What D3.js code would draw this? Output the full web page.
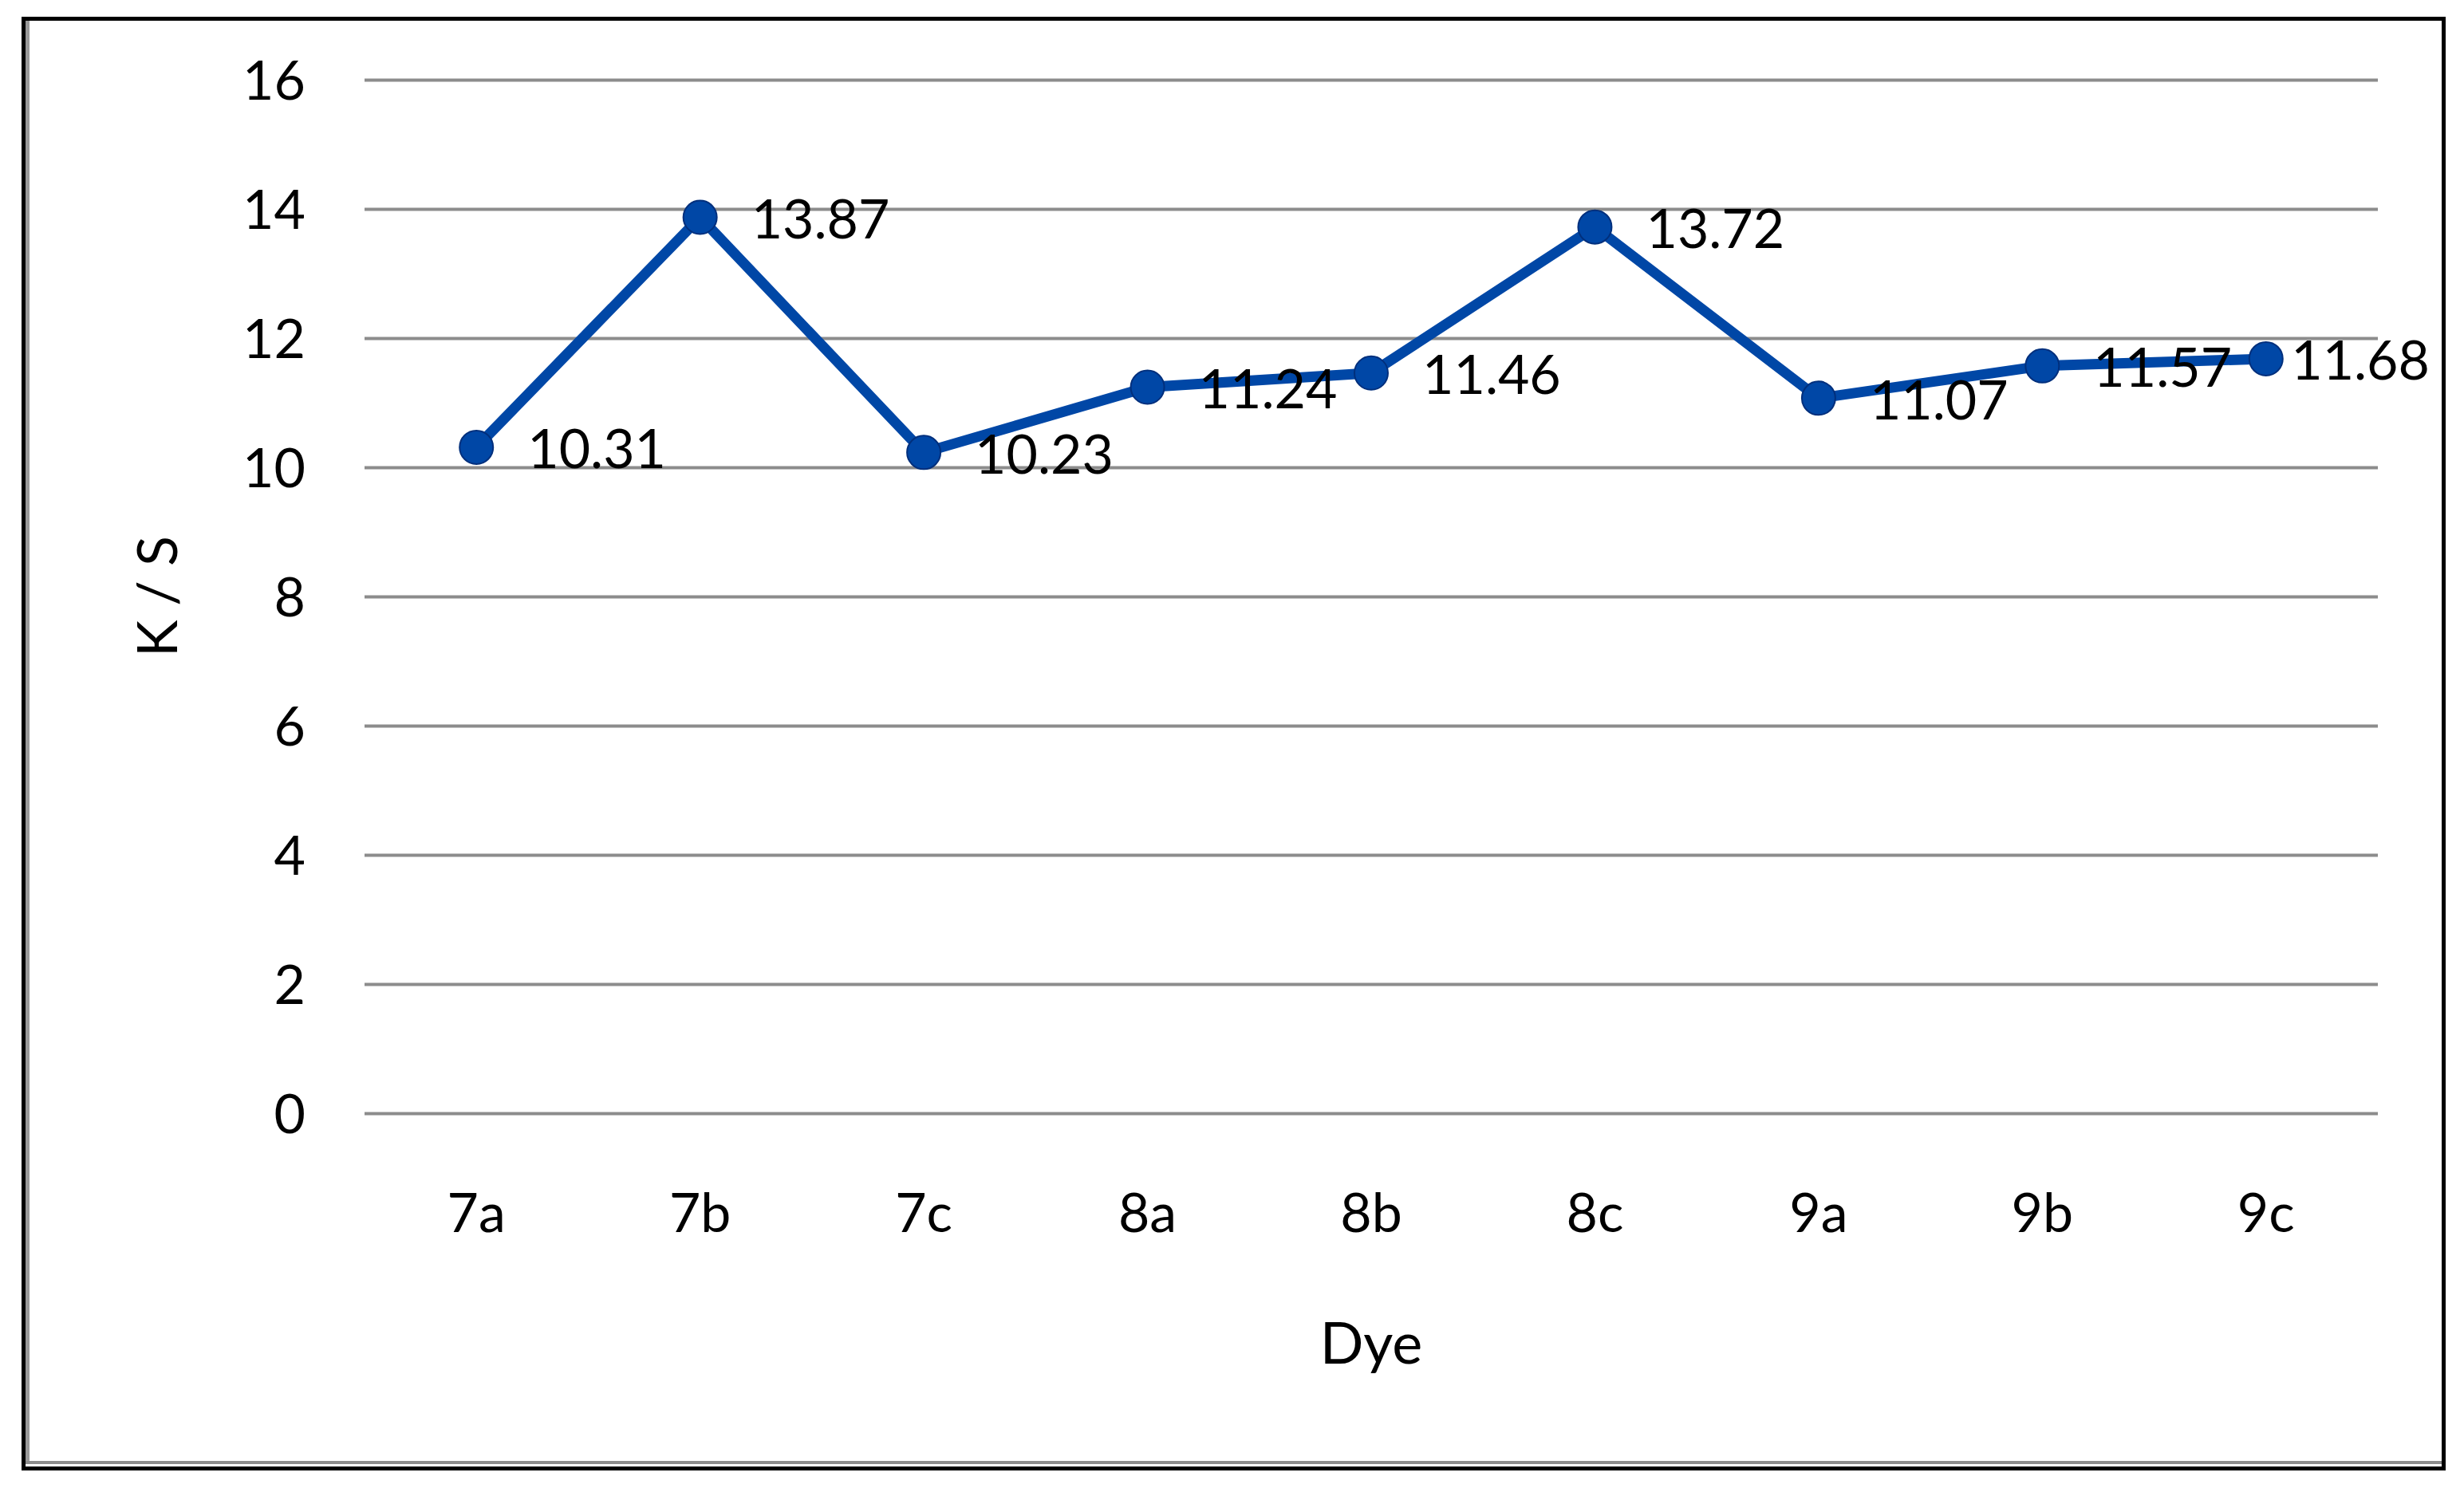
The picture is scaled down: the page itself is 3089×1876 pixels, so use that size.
<!DOCTYPE html>
<html>
<head>
<meta charset="utf-8">
<script src="https://cdn.jsdelivr.net/npm/d3@7"></script>
<style>
  html, body { margin: 0; padding: 0; background: #ffffff; }
  svg { display: block; }
  text { font-family: Lato, "Open Sans", "Liberation Sans", sans-serif; fill: #000; }
</style>
</head>
<body>
<svg id="chart" width="3089" height="1876"></svg>
<script>
const categories = ["7a", "7b", "7c", "8a", "8b", "8c", "9a", "9b", "9c"];
const values = [10.31, 13.87, 10.23, 11.24, 11.46, 13.72, 11.07, 11.57, 11.68];
const yTicks = [0, 2, 4, 6, 8, 10, 12, 14, 16];
const xTitle = "Dye";
const yTitle = "K / S";

const W = 3089, H = 1876;
const plot = { left: 457, right: 2981, top: 100, bottom: 1396 };
const fontSize = 68;
const lineColor = "#0047a6";

const svg = d3.select("#chart");
svg.append("rect").attr("x", 0).attr("y", 0).attr("width", W).attr("height", H).attr("fill", "#fff");

// frame
svg.append("rect")
  .attr("x", 29.5).attr("y", 23.5).attr("width", 3034).attr("height", 1818)
  .attr("fill", "none").attr("stroke", "#000").attr("stroke-width", 5);
svg.append("line").attr("x1", 34.5).attr("x2", 34.5).attr("y1", 26).attr("y2", 1836)
  .attr("stroke", "#999").attr("stroke-width", 5);
svg.append("line").attr("x1", 32).attr("x2", 3061).attr("y1", 1834).attr("y2", 1834)
  .attr("stroke", "#8c8c8c").attr("stroke-width", 4);

const x = d3.scaleBand().domain(categories).range([plot.left, plot.right]).padding(0);
const cx = d => x(d) + x.bandwidth() / 2;
const y = d3.scaleLinear().domain([0, 16]).range([plot.bottom, plot.top]);

// y axis with gridlines
const yAxis = d3.axisLeft(y).tickValues(yTicks)
  .tickSizeInner(-(plot.right - plot.left)).tickSizeOuter(0).tickPadding(74);
const gy = svg.append("g").attr("transform", `translate(${plot.left},0)`).call(yAxis);
gy.select(".domain").remove();
gy.selectAll(".tick line").attr("stroke", "#8c8c8c").attr("stroke-width", 4);
gy.selectAll(".tick text")
  .attr("font-size", fontSize).attr("font-family", "Lato, 'Open Sans', sans-serif")
  .attr("fill", "#000").attr("dy", "0.36em");

// x axis
const xAxis = d3.axisBottom(x).tickSize(0).tickPadding(101);
const gx = svg.append("g").attr("transform", `translate(0,${plot.bottom})`).call(xAxis);
gx.select(".domain").remove();
gx.selectAll(".tick text")
  .attr("font-size", fontSize).attr("font-family", "Lato, 'Open Sans', sans-serif")
  .attr("fill", "#000");

// axis titles
svg.append("text").attr("x", (plot.left + plot.right) / 2).attr("y", 1710)
  .attr("text-anchor", "middle").attr("font-size", 72).text(xTitle);
svg.append("text")
  .attr("transform", `translate(222,${(plot.top + plot.bottom) / 2}) rotate(-90)`)
  .attr("text-anchor", "middle").attr("font-size", 70).text(yTitle);

// line
const data = categories.map((c, i) => ({ c, v: values[i] }));
const line = d3.line().x(d => cx(d.c)).y(d => y(d.v));
svg.append("path").datum(data)
  .attr("d", line).attr("fill", "none")
  .attr("stroke", lineColor).attr("stroke-width", 13)
  .attr("stroke-linejoin", "round");

svg.append("g").selectAll("circle").data(data).join("circle")
  .attr("cx", d => cx(d.c)).attr("cy", d => y(d.v)).attr("r", 21)
  .attr("fill", lineColor).attr("stroke", "#002f7c").attr("stroke-width", 2);

// data labels
const labelRight = 3046;
svg.append("g").selectAll("text").data(data).join("text")
  .attr("font-size", fontSize)
  .attr("dy", "0.36em")
  .attr("y", d => y(d.v) + 2)
  .text(d => d.v.toFixed(2))
  .attr("x", function(d) {
    const w = this.getComputedTextLength();
    return Math.min(cx(d.c) + 64, labelRight - w);
  });
</script>
</body>
</html>
